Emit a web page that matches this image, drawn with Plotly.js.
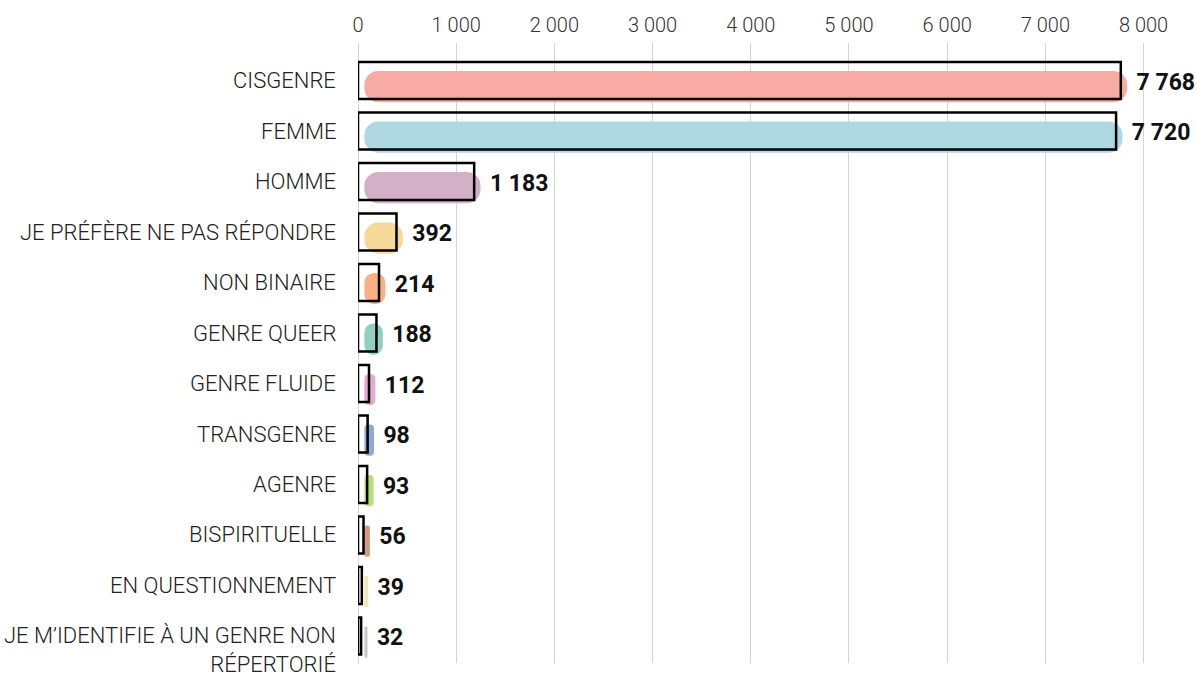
<!DOCTYPE html>
<html>
<head>
<meta charset="utf-8">
<script src="https://cdn.plot.ly/plotly-3.0.1.min.js"></script>
<style>
  html, body { margin: 0; padding: 0; background: #fff; }
  #chart { width: 1197px; height: 677px; }
</style>
</head>
<body>
<div id="chart"></div>
<script>
// catégories (de haut en bas)
const categories = [
  'CISGENRE', 'FEMME', 'HOMME', 'JE PRÉFÈRE NE PAS RÉPONDRE', 'NON BINAIRE',
  'GENRE QUEER', 'GENRE FLUIDE', 'TRANSGENRE', 'AGENRE', 'BISPIRITUELLE',
  'EN QUESTIONNEMENT', 'JE M’IDENTIFIE À UN GENRE NON<br>RÉPERTORIÉ'
];
const counts = [7768, 7720, 1183, 392, 214, 188, 112, 98, 93, 56, 39, 32];
// couleurs des coups de pinceau
const brushColors = [
  '#f7aba3', '#afd7df', '#d4afc8', '#f4d99a', '#f9ae84', '#92cfc0',
  '#e6a9d2', '#92a9d4', '#b6de78', '#d49a84', '#ece8b8', '#c8c8c8'
];

const brushShift = 65;   // décalage du pinceau à droite de la boîte
const labelShift = 130;  // écart entre la boîte et le nombre

// trace du pinceau (couleur), légèrement décalée
const brushTrace = {
  type: 'bar',
  orientation: 'h',
  y: categories,
  x: counts,
  base: counts.map(() => brushShift),
  width: 0.62,
  offset: -0.19,
  marker: {
    color: brushColors,
    cornerradius: 14,
    line: { width: 0 }
  },
  hoverinfo: 'skip'
};

// boîtes noires
const boxTrace = {
  type: 'bar',
  orientation: 'h',
  y: categories,
  x: counts,
  width: 0.73,
  offset: -0.365,
  marker: {
    color: 'rgba(0,0,0,0)',
    line: { color: '#000', width: 2.5 }
  },
  hoverinfo: 'x+y'
};

// étiquettes de valeur (barre invisible)
const labelTrace = {
  type: 'bar',
  orientation: 'h',
  y: categories,
  x: counts,
  base: counts.map(() => labelShift),
  width: 0.73,
  offset: -0.33,
  marker: { color: 'rgba(0,0,0,0)', line: { width: 0 } },
  text: counts,
  texttemplate: '%{x:,}',
  textposition: 'outside',
  constraintext: 'none',
  cliponaxis: false,
  textfont: { family: 'Roboto', size: 23, weight: 700, color: '#111' },
  hoverinfo: 'skip'
};

// libellés des catégories
const catAnnotations = categories.map(c => {
  const multi = c.includes('<br>');
  return {
    xref: 'paper', yref: 'y',
    x: 0, y: c,
    xanchor: 'right',
    yanchor: multi ? 'top' : 'middle',
    yshift: multi ? 15 : 0,
    xshift: -20,
    align: 'right',
    text: c,
    showarrow: false,
    font: { family: 'Roboto', size: 22, weight: 300, color: '#222' }
  };
});

const layout = {
  width: 1197,
  height: 677,
  margin: { l: 358, r: 0, t: 43, b: 14 },
  paper_bgcolor: '#fff',
  plot_bgcolor: '#fff',
  barmode: 'overlay',
  showlegend: false,
  separators: ', ',
  font: { family: 'Roboto', color: '#222' },
  xaxis: {
    side: 'top',
    range: [0, 8544],
    tickvals: [0, 1000, 2000, 3000, 4000, 5000, 6000, 7000, 8000],
    tickformat: ',',
    tickfont: { family: 'Roboto', size: 20, weight: 300, color: '#333' },
    showgrid: true,
    gridcolor: '#d4d4d4',
    gridwidth: 1,
    zeroline: true,
    zerolinecolor: '#d4d4d4',
    zerolinewidth: 1,
    showline: false,
    ticks: '',
    ticklabelstandoff: 6
  },
  yaxis: {
    type: 'category',
    range: [11.535, -0.743],
    showticklabels: false,
    showgrid: false,
    zeroline: false,
    showline: false,
    ticks: ''
  },
  annotations: catAnnotations
};

Plotly.newPlot('chart', [brushTrace, boxTrace, labelTrace], layout, { displayModeBar: false });
</script>
</body>
</html>
